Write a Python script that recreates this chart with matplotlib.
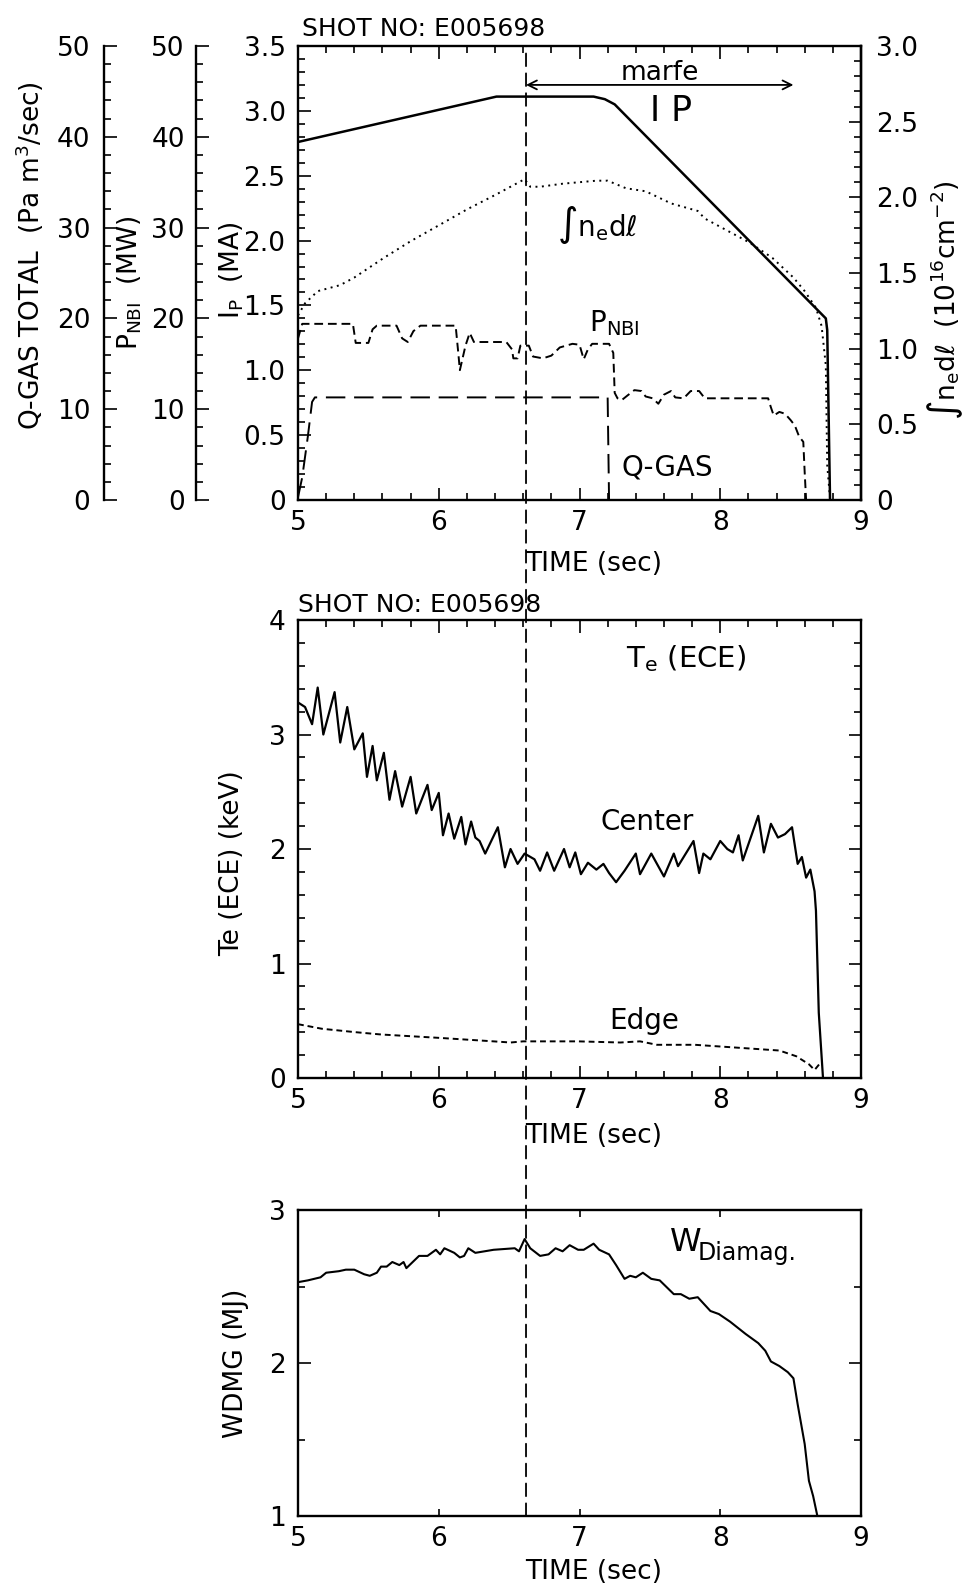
import matplotlib.pyplot as plt
from matplotlib.ticker import MultipleLocator, FuncFormatter
from matplotlib.patches import ConnectionPatch

plt.rcParams['font.family'] = ['DejaVu Sans']
plt.rcParams['mathtext.default'] = 'regular'

# ---- shot E005698 waveforms ----
T_MARFE = 6.62          # marfe onset (dashed marker)
T_MARFE_END = 8.52

# plasma current (MA)
t_ip = [5.00, 6.41, 7.10, 7.18, 7.25, 8.75, 8.76, 8.78]
ip = [2.76, 3.11, 3.11, 3.09, 3.05, 1.40, 1.31, 0.0]

# line integrated density (1e16 cm^-2)
t_ne = [5.00, 5.05, 5.14, 5.30, 5.40, 5.61, 5.80, 6.01, 6.20, 6.41, 6.61, 6.65,
        6.72, 6.88, 7.00, 7.12, 7.20, 7.33, 7.47, 7.65, 7.84, 7.89, 8.05, 8.21,
        8.37, 8.52, 8.60, 8.68, 8.72, 8.75, 8.76, 8.78]
ne = [1.22, 1.30, 1.38, 1.42, 1.47, 1.60, 1.71, 1.82, 1.92, 2.02, 2.12, 2.07,
      2.07, 2.09, 2.10, 2.11, 2.11, 2.06, 2.04, 1.96, 1.91, 1.86, 1.78, 1.70,
      1.60, 1.47, 1.38, 1.27, 1.15, 0.89, 0.23, 0.01]

# neutral beam power (MW)
t_nbi = [5.00, 5.03, 5.39, 5.41, 5.50, 5.53, 5.56, 5.70, 5.74, 5.78, 5.82, 5.87,
         6.12, 6.14, 6.15, 6.19, 6.22, 6.25, 6.48, 6.52, 6.53, 6.56, 6.58, 6.64,
         6.67, 6.74, 6.80, 6.86, 6.95, 7.00, 7.03, 7.06, 7.09, 7.21, 7.24, 7.25,
         7.27, 7.30, 7.34, 7.39, 7.44, 7.47, 7.52, 7.56, 7.60, 7.65, 7.68, 7.74,
         7.79, 7.85, 7.89, 8.34, 8.36, 8.38, 8.42, 8.46, 8.50, 8.53, 8.56, 8.59,
         8.60, 8.61]
p_nbi = [17.8, 19.4, 19.4, 17.3, 17.3, 18.8, 19.2, 19.2, 17.8, 17.4, 18.6, 19.2,
         19.2, 16.0, 14.3, 17.0, 18.4, 17.4, 17.4, 16.6, 15.6, 15.6, 17.0, 17.0,
         15.8, 15.6, 15.9, 16.8, 17.2, 17.1, 15.5, 16.6, 17.2, 17.2, 16.2, 11.8,
         11.2, 11.0, 11.5, 12.1, 12.0, 11.4, 11.2, 10.6, 11.6, 12.0, 11.3, 11.2,
         12.0, 12.0, 11.2, 11.2, 10.2, 9.3, 9.7, 9.5, 8.8, 8.2, 7.0, 6.4,
         3.0, 0.0]

# total gas puff (Pa m3/sec)
t_gas = [5.00, 5.03, 5.07, 5.10, 5.12, 7.20, 7.21]
q_gas = [0.3, 2.5, 7.0, 10.8, 11.3, 11.3, 0.0]

# ECE electron temperature (keV)
t_te = [5.00, 5.05, 5.10, 5.14, 5.18, 5.26, 5.30, 5.35, 5.40, 5.46, 5.49, 5.53,
        5.56, 5.61, 5.65, 5.69, 5.74, 5.80, 5.84, 5.92, 5.95, 6.00, 6.03, 6.07,
        6.11, 6.16, 6.19, 6.23, 6.26, 6.29, 6.33, 6.42, 6.47, 6.51, 6.56, 6.61,
        6.68, 6.72, 6.77, 6.82, 6.89, 6.93, 6.97, 7.01, 7.06, 7.12, 7.17, 7.21,
        7.26, 7.32, 7.40, 7.43, 7.51, 7.60, 7.67, 7.70, 7.81, 7.85, 7.88, 7.93,
        8.00, 8.05, 8.09, 8.13, 8.16, 8.27, 8.31, 8.36, 8.41, 8.46, 8.51, 8.55,
        8.58, 8.61, 8.64, 8.67, 8.68, 8.70, 8.73]
te_center = [3.28, 3.24, 3.09, 3.41, 3.00, 3.37, 2.93, 3.24, 2.87, 3.01, 2.63, 2.90,
             2.60, 2.84, 2.43, 2.68, 2.37, 2.63, 2.31, 2.56, 2.34, 2.49, 2.12, 2.31,
             2.09, 2.28, 2.04, 2.24, 2.10, 2.07, 1.96, 2.19, 1.84, 2.00, 1.87, 1.96,
             1.91, 1.81, 1.97, 1.81, 2.00, 1.84, 1.97, 1.78, 1.88, 1.82, 1.87, 1.79,
             1.71, 1.81, 1.96, 1.78, 1.96, 1.76, 1.96, 1.85, 2.07, 1.79, 1.96, 1.91,
             2.07, 2.00, 1.97, 2.12, 1.90, 2.29, 1.97, 2.22, 2.10, 2.13, 2.19, 1.87,
             1.93, 1.75, 1.82, 1.63, 1.46, 0.57, 0.0]

t_edge = [5.00, 5.17, 5.41, 5.59, 6.01, 6.39, 6.51, 6.60, 6.99, 7.29, 7.43, 7.55,
          7.82, 8.18, 8.42, 8.54, 8.63, 8.67, 8.71]
te_edge = [0.47, 0.43, 0.40, 0.38, 0.35, 0.32, 0.31, 0.32, 0.32, 0.31, 0.32, 0.29,
           0.29, 0.26, 0.24, 0.19, 0.12, 0.07, 0.13]

# diamagnetic stored energy (MJ)
t_w = [5.01, 5.07, 5.16, 5.20, 5.29, 5.34, 5.40, 5.47, 5.51, 5.56, 5.59, 5.63,
       5.67, 5.72, 5.75, 5.77, 5.86, 5.92, 5.98, 6.01, 6.04, 6.11, 6.15, 6.18,
       6.21, 6.26, 6.39, 6.54, 6.57, 6.61, 6.65, 6.72, 6.78, 6.83, 6.88, 6.93,
       6.99, 7.03, 7.10, 7.14, 7.21, 7.26, 7.32, 7.36, 7.40, 7.45, 7.51, 7.57,
       7.67, 7.72, 7.78, 7.84, 7.93, 7.99, 8.07, 8.18, 8.27, 8.32, 8.36, 8.42,
       8.48, 8.52, 8.55, 8.60, 8.63, 8.66, 8.69]
w_dia = [2.53, 2.54, 2.56, 2.59, 2.60, 2.61, 2.61, 2.58, 2.57, 2.59, 2.63, 2.63,
         2.66, 2.64, 2.66, 2.62, 2.70, 2.70, 2.74, 2.71, 2.75, 2.72, 2.69, 2.70,
         2.75, 2.72, 2.74, 2.75, 2.73, 2.81, 2.75, 2.70, 2.71, 2.75, 2.73, 2.77,
         2.74, 2.74, 2.78, 2.74, 2.71, 2.64, 2.55, 2.57, 2.56, 2.59, 2.55, 2.54,
         2.45, 2.45, 2.42, 2.43, 2.34, 2.32, 2.27, 2.19, 2.13, 2.08, 2.01, 1.98,
         1.94, 1.90, 1.73, 1.47, 1.23, 1.13, 1.00]

# ---- figure layout (pixel boxes) ----
W, H = 971, 1591
FS_TICK = 19
FS_TXT = 19

fig = plt.figure(figsize=(W / 100, H / 100), dpi=100)


def rect(x0, y0, x1, y1):
    return [x0 / W, 1 - y1 / H, (x1 - x0) / W, (y1 - y0) / H]


ax1 = fig.add_axes(rect(298, 46, 861, 500))
ax2 = fig.add_axes(rect(298, 620, 861, 1078))
ax3 = fig.add_axes(rect(298, 1210, 861, 1516))

dec = FuncFormatter(lambda v, _: '0' if abs(v) < 1e-9 else f'{v:.1f}')
integer = FuncFormatter(lambda v, _: f'{v:.0f}')


def style(ax, xminor=0.2, ymajor=1, yminor=0.2, right=True, xlen=(9, 5)):
    ax.set_xlim(5, 9)
    ax.xaxis.set_major_locator(MultipleLocator(1))
    ax.xaxis.set_major_formatter(integer)
    if xminor:
        ax.xaxis.set_minor_locator(MultipleLocator(xminor))
    ax.yaxis.set_major_locator(MultipleLocator(ymajor))
    ax.yaxis.set_minor_locator(MultipleLocator(yminor))
    ax.tick_params(which='both', direction='in', top=True, right=right,
                   width=1.2, labelsize=FS_TICK)
    ax.tick_params(axis='y', which='major', length=9, pad=9)
    ax.tick_params(axis='y', which='minor', length=5)
    ax.tick_params(axis='x', which='major', length=xlen[0], pad=7)
    ax.tick_params(axis='x', which='minor', length=xlen[1])
    for s in ax.spines.values():
        s.set_linewidth(1.7)


# ---- top: IP, density, NBI, gas ----
style(ax1, ymajor=0.5, yminor=0.1, right=False)
ax1.set_ylim(0, 3.5)
ax1.yaxis.set_major_formatter(dec)
ax1.plot(t_ip, ip, color='k', lw=1.8)

ax_ne = ax1.twinx()
ax_ne.set_ylim(0, 3.0)
ax_ne.yaxis.set_major_locator(MultipleLocator(0.5))
ax_ne.yaxis.set_minor_locator(MultipleLocator(0.1))
ax_ne.yaxis.set_major_formatter(dec)
ax_ne.tick_params(which='both', direction='in', width=1.2, labelsize=FS_TICK)
ax_ne.tick_params(which='major', length=9, pad=11)
ax_ne.tick_params(which='minor', length=5)
for k in ('left', 'top', 'bottom'):
    ax_ne.spines[k].set_visible(False)
ax_ne.spines['right'].set_linewidth(1.7)
ax_ne.plot(t_ne, ne, color='k', lw=1.4, ls=(0, (1, 2.3)))


def side_axis(offset, pad):
    a = ax1.twinx()
    a.yaxis.set_ticks_position('left')
    a.yaxis.set_label_position('left')
    for k in ('right', 'top', 'bottom'):
        a.spines[k].set_visible(False)
    a.spines['left'].set_position(('outward', offset))
    a.spines['left'].set_linewidth(1.7)
    a.set_ylim(0, 50)
    a.yaxis.set_major_locator(MultipleLocator(10))
    a.yaxis.set_minor_locator(MultipleLocator(2))
    a.tick_params(which='both', direction='in', width=1.2, labelsize=FS_TICK)
    a.tick_params(which='major', length=9, pad=pad)
    a.tick_params(which='minor', length=5)
    return a


ax_nbi = side_axis(73.5, 8)
ax_nbi.plot(t_nbi, p_nbi, color='k', lw=1.4, ls=(0, (4.5, 2.5)))
ax_gas = side_axis(139.5, 10)
ax_gas.plot(t_gas, q_gas, color='k', lw=1.4, ls=(0, (10, 4.5)))

# axis titles placed by pixel centre
fig.text(30 / W, 1 - 256 / H, 'Q-GAS TOTAL  (Pa m$^3$/sec)', rotation=90,
         ha='center', va='center', fontsize=FS_TXT)
fig.text(130 / W, 1 - 283 / H, 'P$_{NBI}$  (MW)', rotation=90,
         ha='center', va='center', fontsize=FS_TXT)
fig.text(232 / W, 1 - 270 / H, 'I$_P$  (MA)', rotation=90,
         ha='center', va='center', fontsize=FS_TXT)
fig.text(945 / W, 1 - 300 / H, r'$\int$n$_e$d$\ell$  (10$^{16}$cm$^{-2}$)',
         rotation=90, ha='center', va='center', fontsize=FS_TXT)

ax1.set_xlabel('TIME (sec)', fontsize=FS_TXT)
ax1.xaxis.set_label_coords(0.525, -0.112)
ax1.text(0.007, 1.012, 'SHOT NO: E005698', transform=ax1.transAxes,
         ha='left', va='bottom', fontsize=18)

ax1.annotate('', xy=(T_MARFE_END, 3.2), xytext=(T_MARFE, 3.2),
             arrowprops=dict(arrowstyle='<->', lw=1.3, color='k',
                             shrinkA=0, shrinkB=0, mutation_scale=16))
ax1.text(7.57, 3.29, 'marfe', ha='center', va='center', fontsize=19)
ax1.text(7.50, 3.0, 'I P', ha='left', va='center', fontsize=25)
ax1.text(6.84, 2.12, r'$\int$n$_e$d$\ell$', ha='left', va='center', fontsize=20)
ax1.text(7.07, 1.36, 'P$_{NBI}$', ha='left', va='center', fontsize=20)
ax1.text(7.30, 0.25, 'Q-GAS', ha='left', va='center', fontsize=20)

# ---- middle: ECE Te ----
style(ax2)
ax2.set_ylim(0, 4)
ax2.plot(t_te, te_center, color='k', lw=1.6)
ax2.plot(t_edge, te_edge, color='k', lw=1.4, ls=(0, (3, 2)))
ax2.set_ylabel('Te (ECE) (keV)', fontsize=FS_TXT)
ax2.yaxis.set_label_coords(-0.117, 0.47)
ax2.yaxis.label.set_va('center')
ax2.set_xlabel('TIME (sec)', fontsize=FS_TXT)
ax2.xaxis.set_label_coords(0.525, -0.098)
ax2.text(0.0, 1.007, 'SHOT NO: E005698', transform=ax2.transAxes,
         ha='left', va='bottom', fontsize=18)
ax2.text(7.33, 3.66, 'T$_e$ (ECE)', ha='left', va='center', fontsize=21)
ax2.text(7.15, 2.24, 'Center', ha='left', va='center', fontsize=20)
ax2.text(7.21, 0.50, 'Edge', ha='left', va='center', fontsize=20)

# ---- bottom: diamagnetic energy ----
style(ax3, xminor=None, ymajor=1, yminor=0.5, xlen=(5, 3))
ax3.set_ylim(1, 3)
ax3.yaxis.set_major_formatter(integer)
ax3.plot(t_w, w_dia, color='k', lw=1.5)
ax3.set_ylabel('WDMG (MJ)', fontsize=FS_TXT)
ax3.yaxis.set_label_coords(-0.11, 0.5)
ax3.yaxis.label.set_va('center')
ax3.set_xlabel('TIME (sec)', fontsize=FS_TXT)
ax3.xaxis.set_label_coords(0.525, -0.14)
ax3.text(7.64, 2.79, 'W', ha='left', va='center', fontsize=23)
ax3.text(7.84, 2.72, 'Diamag.', ha='left', va='center', fontsize=17)

# marfe marker through all three panels
con = ConnectionPatch(xyA=(T_MARFE, 1.0), coordsA='data', axesA=ax3,
                      xyB=(T_MARFE, 3.5), coordsB='data', axesB=ax1,
                      color='k', lw=1.3, ls=(0, (7, 4)))
fig.add_artist(con)

fig.savefig('out.png', dpi=100)
